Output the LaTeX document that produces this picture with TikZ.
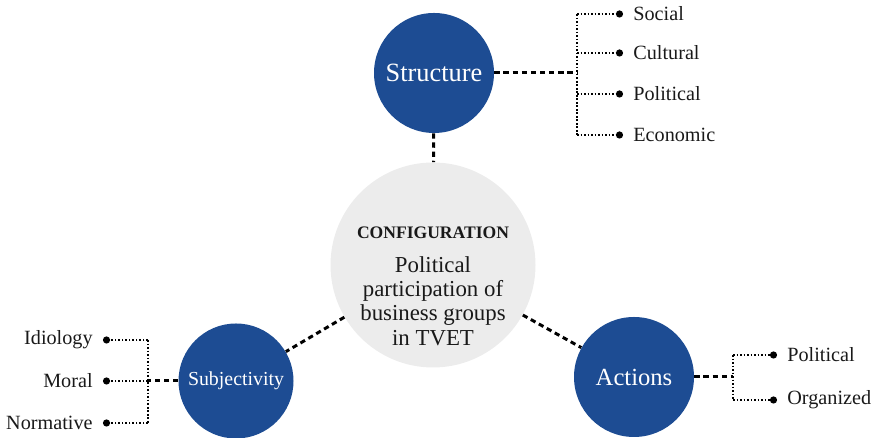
\documentclass[tikz,border=0pt]{standalone}
\usepackage{fontspec}
\setmainfont{Liberation Serif}
\usetikzlibrary{arrows.meta,positioning}
\definecolor{cfgblue}{HTML}{1D4C93}
\definecolor{cfggray}{HTML}{ECECEC}
\tikzset{
  dim/.style={circle, fill=cfgblue, text=white, inner sep=0pt},
  core/.style={circle, fill=cfggray, inner sep=0pt, minimum size=4.1cm},
  coretext/.style={align=center, inner sep=0pt, font=\fontsize{13}{13.7}\selectfont, text=black!90},
  link/.style={line width=1.7pt, dash pattern=on 3pt off 2.2pt},
  branch/.style={line width=1.1pt, dash pattern=on 1pt off 1pt},
  leaf/.style={branch, -{Circle[length=4pt]}},
  item/.style={inner sep=0pt, font=\fontsize{11.5}{13}\selectfont, text=black!90}
}

\begin{document}
\begin{tikzpicture}
  \useasboundingbox (0,0) rectangle (17.58,8.76);
  \node[core] (cfg) at (8.66,3.46) {};
  \node[coretext] (cfgtxt) at ([yshift=-0.42cm]cfg.center) {{\fontsize{10}{12}\selectfont\bfseries CONFIGURATION}\\[6pt] Political\\participation of\\business groups\\in TVET};
  \node[dim, minimum size=2.4cm, font=\fontsize{15}{17}\selectfont] (str) at (8.68,7.30) {Structure};
  \node[dim, minimum size=2.3cm, font=\fontsize{11.3}{13}\selectfont] (sub) at (4.72,1.14) {Subjectivity};
  \node[dim, minimum size=2.4cm, font=\fontsize{14}{16}\selectfont] (act) at (12.68,1.22) {Actions};
  \draw[link] (str) -- (cfg);
  \draw[link] (cfg) -- (sub);
  \draw[link] (cfg) -- (act);

  \coordinate (strj) at (11.54,7.30);
  \node[item, anchor=west] (soc) at (12.66,8.48) {Social};
  \node[item, anchor=west] (cul) at (12.66,7.70) {Cultural};
  \node[item, anchor=west] (spol) at (12.66,6.88) {Political};
  \node[item, anchor=west] (eco) at (12.66,6.06) {Economic};
  \draw[link] (str) -- (strj);
  \draw[branch] (strj |- soc) -- (strj |- eco);
  \foreach \n in {soc,cul,spol,eco}
    \draw[leaf] (strj |- \n) -- ([xshift=-2mm]\n.west);

  \coordinate (subj) at (2.96,1.14);
  \node[item, anchor=east] (ido) at (1.86,1.96) {Idiology};
  \node[item, anchor=east] (mor) at (1.86,1.14) {Moral};
  \node[item, anchor=east] (nor) at (1.86,0.30) {Normative};
  \draw[link] (sub) -- (subj);
  \draw[branch] (subj |- ido) -- (subj |- nor);
  \foreach \n in {ido,mor,nor}
    \draw[leaf] (subj |- \n) -- ([xshift=2mm]\n.east);

  \coordinate (actj) at (14.66,1.22);
  \node[item, anchor=west] (apol) at (15.74,1.66) {Political};
  \node[item, anchor=west] (org) at (15.74,0.76) {Organized};
  \draw[link] (act) -- (actj);
  \draw[branch] (actj |- apol) -- (actj |- org);
  \foreach \n in {apol,org}
    \draw[leaf] (actj |- \n) -- ([xshift=-2mm]\n.west);
\end{tikzpicture}
\end{document}
